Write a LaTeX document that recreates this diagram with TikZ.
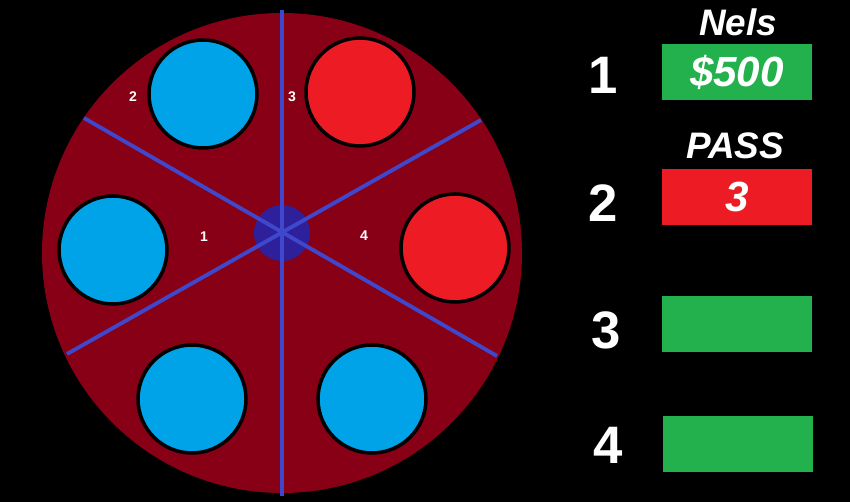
\documentclass[tikz,border=0pt]{standalone}
\usepackage{fontspec}
\setmainfont{Liberation Sans}
\begin{document}
\begin{tikzpicture}[x=0.02cm,y=-0.02cm,
  disc/.style={circle,draw=black,line width=2pt,minimum size=108*0.02cm,inner sep=0},
  spoke/.style={draw=spokeblue,line width=2.2pt},
  small/.style={text=white,font=\bfseries\fontsize{8}{8}\selectfont},
  big/.style={text=white,font=\bfseries\fontsize{30}{30}\selectfont},
  box/.style={minimum width=150*0.02cm,minimum height=56*0.02cm,inner sep=0},
  head/.style={text=white,font=\bfseries\itshape\fontsize{21}{21}\selectfont}]
\definecolor{wheel}{HTML}{880015}
\definecolor{cblue}{HTML}{00A2E8}
\definecolor{cred}{HTML}{ED1C24}
\definecolor{cgreen}{HTML}{22B14C}
\definecolor{spokeblue}{HTML}{3F48CC}
\definecolor{hub}{HTML}{2E1F9A}
\fill[black] (0,0) rectangle (850,502);
\useasboundingbox (0,0) rectangle (850,502);
\fill[wheel] (282,253) circle[radius=240];
\node[disc,fill=cblue] (b1) at (203,94) {};
\node[disc,fill=cred] (r1) at (360,92) {};
\node[disc,fill=cblue] (b2) at (113,250) {};
\node[disc,fill=cred] (r2) at (455,248) {};
\node[disc,fill=cblue] (b3) at (192,399) {};
\node[disc,fill=cblue] (b4) at (372,399) {};
\fill[hub] (282,233) circle[radius=28];
\coordinate (c) at (282,233);
\coordinate (t) at (282,10);
\coordinate (bt) at (282,496);
\coordinate (l1) at (84,118);
\coordinate (l2) at (497,356);
\coordinate (m1) at (481,120);
\coordinate (m2) at (67,354);
\draw[spoke] (t) -- (bt);
\draw[spoke] (l1) -- (l2);
\draw[spoke] (m1) -- (m2);
\node[small] (s2) at (133,97) {2};
\node[small] (s3) at (292,97) {3};
\node[small] (s1) at (204,237) {1};
\node[small] (s4) at (364,236) {4};
\node[head] (nels) at (738,22) {Nels};
\node[head] (pass) at (735,146) {PASS};
\node[box,fill=cgreen] (g1) at (737,72) {\color{white}\bfseries\itshape\fontsize{24}{24}\selectfont\$500};
\node[box,fill=cred] (rb) at (737,197) {\color{white}\bfseries\itshape\fontsize{24}{24}\selectfont 3};
\node[box,fill=cgreen] (g3) at (737,324) {};
\node[box,fill=cgreen] (g4) at (738,444) {};
\node[big] (n1) at (603,75) {1};
\node[big] (n2) at (603,203) {2};
\node[big] (n3) at (606,330) {3};
\node[big] (n4) at (608,445) {4};
\end{tikzpicture}
\end{document}
